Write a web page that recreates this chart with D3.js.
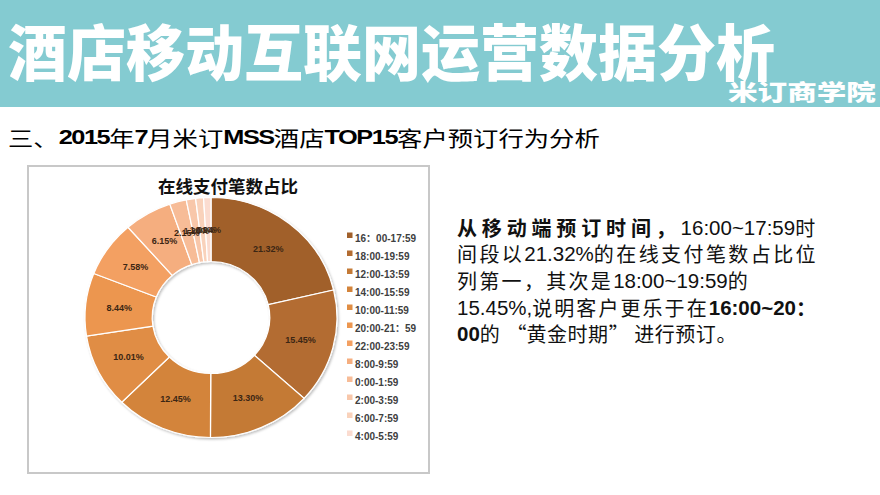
<!DOCTYPE html>
<html><head><meta charset="utf-8">
<script src="https://cdn.jsdelivr.net/npm/d3@7"></script>
<style>
html,body{margin:0;padding:0;background:#fff;}
svg{display:block;}
</style></head>
<body>
<svg id="c" width="880" height="495"></svg>
<script>
const categories = ["16：00-17:59","18:00-19:59","12:00-13:59","14:00-15:59","10:00-11:59","20:00-21：59","22:00-23:59","8:00-9:59","0:00-1:59","2:00-3:59","6:00-7:59","4:00-5:59"];
const values = [21.32,15.45,13.30,12.45,10.01,8.44,7.58,6.15,2.15,1.20,1.01,0.94];
const valueLabels = ["21.32%","15.45%","13.30%","12.45%","10.01%","8.44%","7.58%","6.15%","2.15%","1.20%","1.01%","0.94%"];
const sliceColors = ["#a1602b","#b36c31","#c47a36","#d3843b","#e08d44","#ec964f","#f3a062","#f5ae7f","#f7bc97","#f8c7aa","#f9d2bb","#fbdcd0"];

const svg = d3.select("#c");
const CJK = "'Noto Sans CJK SC','Noto Sans',sans-serif";
const LAT = "'Liberation Sans',Arial,'Noto Sans CJK SC',sans-serif";

// header band
svg.append("rect").attr("x",0).attr("y",0).attr("width",880).attr("height",107).attr("fill","#84cbd1");
function fitX(sel, x0, w){
  const bb = sel.node().getBBox();
  const s = w / bb.width;
  sel.attr("transform", `translate(${x0},0) scale(${s},1) translate(${-bb.x},0)`);
}
const t1 = svg.append("text").attr("x",0).attr("y",49).attr("dominant-baseline","central")
  .attr("font-family",CJK).attr("font-weight",900).attr("font-size",61).attr("fill","#fff")
  .text("酒店移动互联网运营数据分析");
fitX(t1, 8, 767);
const t2 = svg.append("text").attr("x",0).attr("y",91).attr("dominant-baseline","central")
  .attr("font-family",CJK).attr("font-weight",900).attr("font-size",22).attr("fill","#fff")
  .text("米订商学院");
fitX(t2, 728, 148);

// subtitle
const subParts = [["三、",false],["2015",true],["年",false],["7",true],["月米订",false],["MSS",true],["酒店",false],["TOP15",true],["客户预订行为分析",false]];
const st = svg.append("text").attr("x",0).attr("y",137).attr("dominant-baseline","central")
  .attr("font-size",21).attr("fill","#000");
subParts.forEach(p=>{
  st.append("tspan").text(p[0]).attr("font-weight",p[1]?700:400)
    .attr("font-family",p[1]?"'Liberation Sans Narrow','Liberation Sans',Arial,sans-serif":CJK)
    .attr("letter-spacing",p[1]?-1.2:0);
});
fitX(st, 8, 592);

// chart box
svg.append("rect").attr("x",28).attr("y",166).attr("width",401).attr("height",307)
  .attr("fill","#fff").attr("stroke","#c8c8c8").attr("stroke-width",2);

svg.append("text").attr("x",228).attr("y",185).attr("text-anchor","middle").attr("dominant-baseline","central")
  .attr("font-family",CJK).attr("font-weight",700).attr("font-size",17.5).attr("fill","#111")
  .text("在线支付笔数占比");

// donut
const cx = 211, cy = 317.5, rOut = 120, rIn = 56, sx = 1.05;
const pie = d3.pie().sort(null).value(d=>d)(values);
const arc = d3.arc().innerRadius(rIn).outerRadius(rOut);
const labelArc = d3.arc().innerRadius((rIn+rOut)/2).outerRadius((rIn+rOut)/2);
const defs = svg.append("defs");
const f = defs.append("filter").attr("id","sh").attr("x","-20%").attr("y","-20%").attr("width","140%").attr("height","140%");
f.append("feDropShadow").attr("dx",1.2).attr("dy",1.5).attr("stdDeviation",1.2).attr("flood-color","#000").attr("flood-opacity",0.25);
const g = svg.append("g").attr("transform",`translate(${cx},${cy}) scale(${sx},1)`);
const gs = g.append("g").attr("filter","url(#sh)");
gs.selectAll("path").data(pie).enter().append("path")
  .attr("d",arc).attr("fill",(d,i)=>sliceColors[i]).attr("stroke","#fff").attr("stroke-width",1.2);
svg.append("g").selectAll("text").data(pie).enter().append("text")
  .attr("x",d=>cx+labelArc.centroid(d)[0]*sx).attr("y",d=>cy+labelArc.centroid(d)[1])
  .attr("text-anchor","middle").attr("dominant-baseline","central")
  .attr("font-family",LAT).attr("font-weight",700).attr("font-size",9).attr("fill","#3b2614")
  .text((d,i)=>valueLabels[i]);

// legend
const leg = svg.append("g");
const ly = d3.scaleLinear().domain([0,categories.length-1]).range([237,435]);
categories.forEach((c,i)=>{
  leg.append("rect").attr("x",347).attr("y",ly(i)-4.5).attr("width",5.5).attr("height",5.5).attr("fill",sliceColors[i]);
  leg.append("text").attr("x",355).attr("y",ly(i)+1).attr("dominant-baseline","central")
    .attr("font-family",LAT).attr("font-weight",700).attr("font-size",10).attr("fill","#404040").text(c);
});

// paragraph
const lines = [
  {y:227, w:363, parts:[["从移动端预订时间，",true],["16:00~17:59时",false]]},
  {y:253, w:361, parts:[["间段以",false],["21.32%",false],["的在线支付笔数占比位",false]]},
  {y:280, w:293, parts:[["列第一，其次是18:00~19:59的",false]]},
  {y:307, w:361, parts:[["15.45%,说明客户更乐于在",false],["16:00~20：",true]]},
  {y:333, w:280, parts:[["00",true],["的“黄金时期”进行预订。",false]]}
];
const CJKRE = /([\u2018-\u201f]|[\u3000-\u9fff\uff00-\uffef]+|[^\u2018-\u201f\u3000-\u9fff\uff00-\uffef]+)/g;
const isCJK = ch => /[\u2018-\u201f\u3000-\u9fff\uff00-\uffef]/.test(ch);
lines.forEach(L=>{
  const t = svg.append("text").attr("x",457).attr("y",L.y).attr("dominant-baseline","central")
    .attr("font-size",20).attr("fill","#111").attr("font-family","'Liberation Sans','Noto Sans CJK SC',sans-serif");
  const cjkSpans = [];
  let nC = 0;
  L.parts.forEach(p=>{
    const runs = p[0].match(CJKRE);
    runs.forEach(r=>{
      const ts = t.append("tspan").text(r).attr("font-weight",p[1]?700:400);
      if(r==="“"){ ts.attr("dx",6).attr("font-family",CJK); }
      else if(r==="”"){ ts.attr("font-family",CJK); cjkSpans.push(ts); nC += 1; }
      else if(isCJK(r[0])){ cjkSpans.push(ts); nC += r.length; ts.attr("font-family",CJK); }
      else ts.attr("font-size",20.5);
    });
  });
  const w0 = t.node().getBBox().width;
  const hasQ = L.parts.some(p=>p[0].includes("”"));
  const ls = Math.max(0,(L.w - w0 - (hasQ?5:0))/nC);
  cjkSpans.forEach(s=>s.attr("letter-spacing",ls));
  t.selectAll("tspan").filter(function(){return this.textContent==="”";}).attr("letter-spacing",ls+5);
});
</script>
</body></html>
